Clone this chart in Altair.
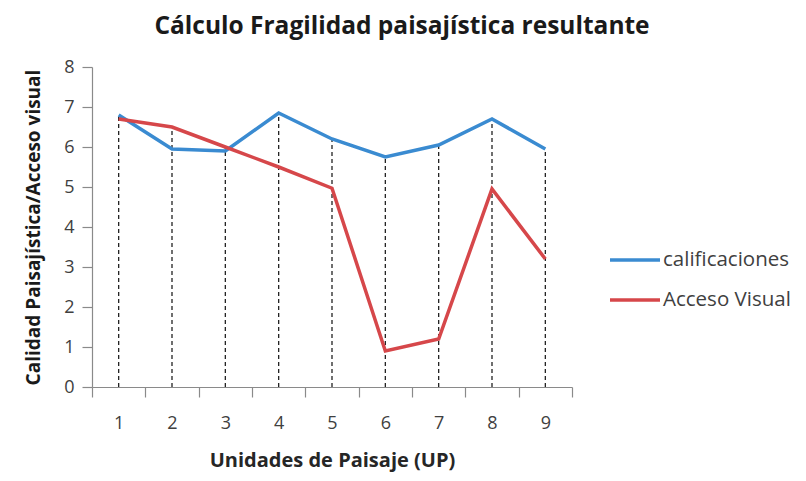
import altair as alt
import pandas as pd

units = ["1", "2", "3", "4", "5", "6", "7", "8", "9"]
calificaciones = [6.8, 5.95, 5.9, 6.85, 6.2, 5.75, 6.05, 6.7, 5.95]
acceso_visual = [6.7, 6.5, 6.0, 5.5, 4.97, 0.9, 1.2, 4.95, 3.2]
series_names = ["calificaciones", "Acceso Visual"]
series_colors = ["#3a8bd1", "#d6474a"]

rows = []
for u, c, a in zip(units, calificaciones, acceso_visual):
    rows.append({"UP": u, "serie": series_names[0], "valor": c})
    rows.append({"UP": u, "serie": series_names[1], "valor": a})
df = pd.DataFrame(rows)
drop = pd.DataFrame({"UP": units, "top": [max(c, a) for c, a in zip(calificaciones, acceso_visual)], "bottom": [0] * len(units)})

font = "Open Sans"
xscale = alt.Scale(domain=units, paddingInner=0, paddingOuter=0)
yscale = alt.Scale(domain=[0, 8], nice=False)

x_axis = alt.Axis(title="Unidades de Paisaje (UP)", labelAngle=0, tickBand="extent",
                  labelFontSize=18, labelColor="#404040", labelFont=font, labelPadding=17,
                  titleFontSize=20, titleFont=font, titleFontWeight="bold", titleColor="#262626",
                  titlePadding=18, tickSize=10, domainColor="#8a8a8a", tickColor="#8a8a8a",
                  domainWidth=1.2, tickWidth=1.2, grid=False)
y_axis = alt.Axis(title="Calidad Paisajística/Acceso visual", values=list(range(0, 9)),
                  labelOverlap=False, tickCount=9,
                  labelFontSize=18, labelColor="#404040", labelFont=font, labelPadding=8,
                  titleFontSize=19, titleFont=font, titleFontWeight="bold", titleColor="#1a1a1a",
                  titlePadding=20, tickSize=10, domainColor="#8a8a8a", tickColor="#8a8a8a",
                  domainWidth=1.2, tickWidth=1.2, grid=False)

rules = alt.Chart(drop).mark_rule(color="#222222", strokeWidth=1.3, strokeDash=[4, 3]).encode(
    x=alt.X("UP:N", scale=xscale, axis=x_axis, sort=units),
    y=alt.Y("bottom:Q", scale=yscale, axis=y_axis),
    y2="top:Q",
)

lines = alt.Chart(df).mark_line(strokeWidth=3.5).encode(
    x=alt.X("UP:N", scale=xscale, axis=x_axis, sort=units),
    y=alt.Y("valor:Q", scale=yscale, axis=y_axis),
    color=alt.Color("serie:N", scale=alt.Scale(domain=series_names, range=series_colors),
                    sort=series_names,
                    legend=alt.Legend(title=None, orient="none", legendX=516, legendY=166,
                                      symbolType="stroke", symbolSize=2500, symbolStrokeWidth=3.5,
                                      labelFontSize=20.5, labelFont=font, labelColor="#404040",
                                      labelOffset=1, rowPadding=2)),
)

chart = alt.layer(rules, lines).properties(
    width=480, height=320,
    autosize=alt.AutoSizeParams(type="none"),
    padding={"left": 84, "top": 59, "right": 226, "bottom": 86},
    title=alt.TitleParams("Cálculo Fragilidad paisajística resultante", fontSize=24.5, font=font,
                          fontWeight="bold", color="#1a1a1a", offset=19, dx=70, anchor="middle"),
).configure_view(stroke=None)

chart.save("out.html", embed_options={"renderer": "svg", "actions": False})
